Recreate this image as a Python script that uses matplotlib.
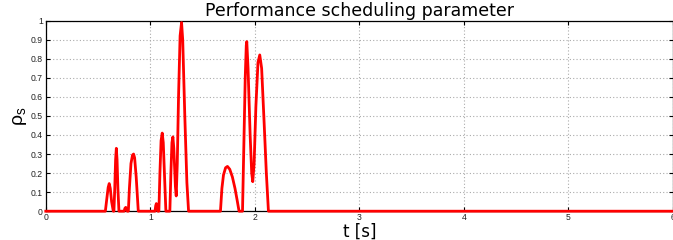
import matplotlib
matplotlib.use("Agg")
import matplotlib.pyplot as plt

# ===============================
# Data
# ===============================
t_pts = [0.0, 0.57,
         0.585, 0.597, 0.607, 0.617, 0.63, 0.646,
         0.652, 0.66, 0.668, 0.675, 0.682, 0.69, 0.70,
         0.75, 0.757, 0.765, 0.772, 0.78,
         0.79, 0.80, 0.815, 0.83, 0.84, 0.85, 0.865, 0.885,
         1.045, 1.052, 1.058, 1.065, 1.073,
         1.082, 1.092, 1.103, 1.114, 1.124, 1.135, 1.149,
         1.187, 1.197, 1.207, 1.216, 1.225, 1.24, 1.248, 1.258, 1.27,
         1.285, 1.299, 1.31, 1.33, 1.35, 1.366,
         1.671, 1.685, 1.70, 1.72, 1.738, 1.76, 1.785, 1.81, 1.83, 1.849,
         1.882, 1.895, 1.908, 1.918, 1.923, 1.935, 1.955, 1.97, 1.98,
         1.993, 2.01, 2.03, 2.047, 2.065, 2.09, 2.11, 2.13,
         6.0]
rho_pts = [0.0, 0.0,
           0.07, 0.125, 0.145, 0.12, 0.05, 0.0,
           0.0, 0.12, 0.27, 0.33, 0.27, 0.12, 0.0,
           0.0, 0.015, 0.02, 0.015, 0.0,
           0.0, 0.12, 0.25, 0.295, 0.30, 0.28, 0.18, 0.0,
           0.0, 0.03, 0.04, 0.025, 0.0,
           0.0, 0.2, 0.37, 0.41, 0.36, 0.2, 0.0,
           0.0, 0.2, 0.36, 0.39, 0.33, 0.13, 0.08, 0.25, 0.6,
           0.92, 0.99, 0.9, 0.5, 0.15, 0.0,
           0.0, 0.12, 0.19, 0.228, 0.235, 0.22, 0.18, 0.12, 0.06, 0.0,
           0.0, 0.35, 0.7, 0.87, 0.89, 0.75, 0.4, 0.2, 0.155,
           0.25, 0.55, 0.78, 0.82, 0.75, 0.45, 0.2, 0.0,
           0.0]

x_ticks = [0, 1, 2, 3, 4, 5, 6]
y_ticks = [0, 0.1, 0.2, 0.3, 0.4, 0.5, 0.6, 0.7, 0.8, 0.9, 1]
y_labels = ["0", "0.1", "0.2", "0.3", "0.4", "0.5", "0.6", "0.7", "0.8", "0.9", "1"]

# ===============================
# Plot
# ===============================
plt.rcParams["font.family"] = ["Liberation Sans", "DejaVu Sans"]
plt.rcParams["mathtext.fontset"] = "custom"
plt.rcParams["mathtext.rm"] = "Liberation Sans"

fig = plt.figure(figsize=(6.73, 2.40), dpi=100)
ax = fig.add_axes([0.068, 0.12, 0.932, 0.794])

ax.plot(t_pts, rho_pts, color="red", linewidth=2.0, clip_on=False, zorder=3)

ax.set_xlim(0, 6)
ax.set_ylim(0, 1)
ax.set_xticks(x_ticks)
ax.set_yticks(y_ticks)
ax.set_yticklabels(y_labels)
ax.tick_params(direction="in", length=3, width=0.8, labelsize=6.2,
               labelcolor="#222222", top=True, right=True, pad=2)
ax.tick_params(axis="x", pad=1.5)
ax.grid(True, linestyle=(0, (1, 2)), color="#aaaaaa", linewidth=0.8)

for s in ax.spines.values():
    s.set_linewidth(0.9)

ax.set_title("Performance scheduling parameter", fontsize=12.5,
             family="DejaVu Sans", pad=3)
ax.set_xlabel("t [s]", fontsize=12, family="DejaVu Sans", labelpad=0)
ax.set_ylabel(r"$\mathrm{\rho}_\mathrm{s}$", fontsize=14, labelpad=1)

plt.savefig("out.png", dpi=100)
